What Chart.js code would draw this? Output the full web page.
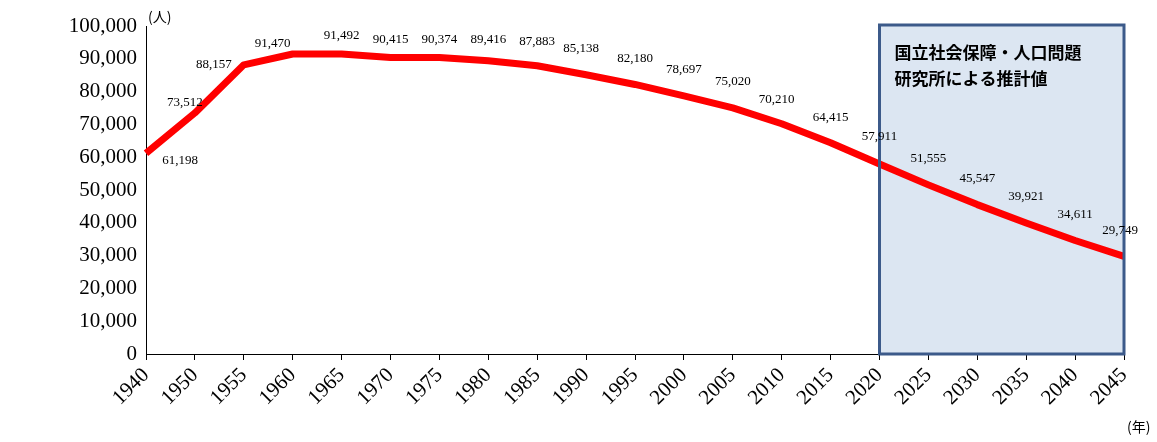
<!DOCTYPE html>
<html>
<head>
<meta charset="utf-8">
<script src="https://cdn.jsdelivr.net/npm/chart.js@4/dist/chart.umd.min.js"></script>
<style>body{margin:0;background:#fff}</style>
</head>
<body>
<canvas id="c" width="1157" height="442"></canvas>
<script>
const years = ['1940','1950','1955','1960','1965','1970','1975','1980','1985','1990','1995','2000','2005','2010','2015','2020','2025','2030','2035','2040','2045'];
const population = [61198,73512,88157,91470,91492,90415,90374,89416,87883,85138,82180,78697,75020,70210,64415,57911,51555,45547,39921,34611,29749];
const estimateStart = '2020';
const boxLines = ['国立社会保障・人口問題', '研究所による推計値'];

// label offsets (dx, dy) relative to each point
const labelOffsets = [[34,7],[-10,-10],[-30,0],[-20,-10],[0,-18],[0,-18],[0,-18],[0,-21],[0,-24],[-5,-26],[0,-26],[0,-26],[0,-26],[-5,-24],[0,-25],[0,-27],[0,-26],[0,-26],[0,-26],[0,-26],[-4,-26]];

const serif = '"Liberation Serif","DejaVu Serif",serif';

const overlay = {
    id: 'overlay',
    beforeDatasetsDraw(chart) {
        const {ctx, chartArea, scales} = chart;
        const x0 = scales.x.getPixelForValue(years.indexOf(estimateStart));
        ctx.save();
        ctx.fillStyle = '#dce6f2';
        ctx.fillRect(x0, chartArea.top - 1, chartArea.right - x0, chartArea.bottom - chartArea.top + 1);
        ctx.restore();
    },
    afterDatasetsDraw(chart) {
        const {ctx, chartArea, scales} = chart;
        const x0 = scales.x.getPixelForValue(years.indexOf(estimateStart));
        ctx.save();
        ctx.strokeStyle = '#3c5a8a';
        ctx.lineWidth = 3;
        ctx.strokeRect(x0, chartArea.top - 1, chartArea.right - x0, chartArea.bottom - chartArea.top + 1);
        ctx.fillStyle = '#000';
        ctx.font = 'bold 17px "Noto Sans CJK JP"';
        ctx.textBaseline = 'middle';
        boxLines.forEach((t, i) => ctx.fillText(t, x0 + 15, chartArea.top + 27 + i * 26));

        // data labels
        const meta = chart.getDatasetMeta(0);
        ctx.font = '13px ' + serif;
        ctx.textAlign = 'center';
        meta.data.forEach((pt, i) => {
            const [dx, dy] = labelOffsets[i];
            ctx.fillText(population[i].toLocaleString('en-US'), pt.x + dx, pt.y + dy);
        });

        ctx.font = '14px "Noto Sans CJK JP"';
        ctx.textAlign = 'left';
        ctx.fillText('(人)', 148, 17);
        ctx.fillText('(年)', 1127, 427);
        ctx.restore();
    }
};

new Chart(document.getElementById('c'), {
    type: 'line',
    data: {
        labels: years,
        datasets: [{
            data: population,
            borderColor: '#ff0000',
            borderWidth: 7,
            pointRadius: 0,
            tension: 0,
            borderJoinStyle: 'round'
        }]
    },
    options: {
        responsive: false,
        animation: false,
        layout: { padding: { top: 26, right: 33, left: 0, bottom: 0 } },
        plugins: { legend: { display: false }, tooltip: { enabled: false } },
        scales: {
            x: {
                offset: false,
                grid: { display: true, drawOnChartArea: false, drawTicks: true, tickLength: 6, color: '#000' },
                border: { color: '#000', width: 1 },
                ticks: { color: '#000', font: { family: serif, size: 21 }, maxRotation: 45, minRotation: 45, autoSkip: false },
                afterFit(s) { s.height = 88; }
            },
            y: {
                min: 0, max: 100000,
                grid: { display: false, tickLength: 6 },
                border: { color: '#000', width: 1 },
                ticks: { stepSize: 10000, color: '#000', font: { family: serif, size: 21 },
                    callback: v => v.toLocaleString('en-US') },
                afterFit(s) { s.width = 146; }
            }
        }
    },
    plugins: [overlay]
});
</script>
</body>
</html>
